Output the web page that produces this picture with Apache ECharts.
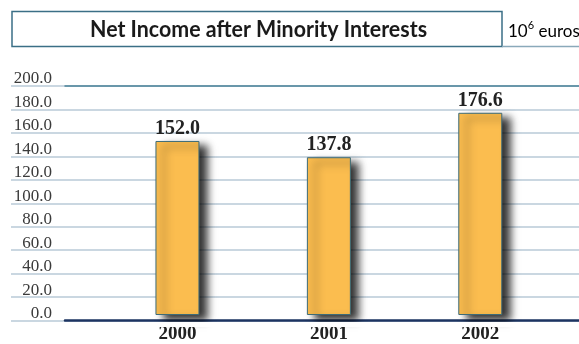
<!DOCTYPE html>
<html>
<head>
<meta charset="utf-8">
<script src="https://cdn.jsdelivr.net/npm/echarts@6/dist/echarts.min.js"></script>
<style>html,body{margin:0;padding:0;background:#fff;}#c{width:579px;height:344px;}</style>
</head>
<body>
<div id="c"></div>
<script>
var categories = ['2000', '2001', '2002'];
var netIncome = [152.0, 137.8, 176.6];
var yTicks = [0, 20, 40, 60, 80, 100, 120, 140, 160, 180, 200];
var titleText = 'Net Income after Minority Interests';
var unitText = ['10', '6', ' euros'];

var chart = echarts.init(document.getElementById('c'), null, {renderer: 'canvas'});
var TOP = 86, BOTTOM = 23.5;
var serif = '"Liberation Serif", "DejaVu Serif", serif';
var option = {
  animation: false,
  grid: [
    {left: 11, right: 0, top: TOP, bottom: BOTTOM},
    {left: 101.75, right: 23, top: TOP, bottom: BOTTOM},
    {left: 65, right: 0, top: TOP, bottom: BOTTOM}
  ],
  xAxis: [
    {gridIndex: 0, type: 'value', show: false},
    {gridIndex: 1, type: 'category', data: categories,
      axisLine: {show: false}, axisTick: {show: false},
      axisLabel: {margin: 10, fontFamily: serif, fontWeight: 'bold', fontSize: 19, color: '#222'}},
    {gridIndex: 2, type: 'value', position: 'bottom', axisLabel: {show: false}, axisTick: {show: false}, splitLine: {show: false},
      axisLine: {show: true, onZero: false, lineStyle: {color: '#1d3461', width: 2.5}}},
    {gridIndex: 2, type: 'value', position: 'top', axisLabel: {show: false}, axisTick: {show: false}, splitLine: {show: false},
      axisLine: {show: true, onZero: false, lineStyle: {color: '#4a8298', width: 1.5}}}
  ],
  yAxis: [
    {gridIndex: 0, type: 'value', min: yTicks[0], max: yTicks[yTicks.length - 1], interval: yTicks[1] - yTicks[0],
      axisLine: {show: false}, axisTick: {show: false},
      splitLine: {show: true, lineStyle: {color: '#b9cad7', width: 1.5}},
      axisLabel: {inside: true, align: 'right', margin: 41, verticalAlign: 'bottom', lineHeight: 14,
        fontFamily: serif, fontSize: 17, color: '#3a3a3a',
        formatter: function (v) { return v.toFixed(1); }}},
    {gridIndex: 1, type: 'value', min: yTicks[0], max: yTicks[yTicks.length - 1], show: false},
    {gridIndex: 2, type: 'value', min: yTicks[0], max: yTicks[yTicks.length - 1], show: false}
  ],
  series: [{
    type: 'bar', xAxisIndex: 1, yAxisIndex: 1, data: netIncome, barWidth: 44,
    itemStyle: {color: '#fbbd4f', borderColor: '#3d6b78', borderWidth: 1,
      shadowColor: 'rgba(0,0,0,0.8)', shadowBlur: 8, shadowOffsetX: 8, shadowOffsetY: 5},
    label: {show: true, position: 'top', distance: 2, fontFamily: serif, fontWeight: 'bold', fontSize: 20, color: '#222',
      formatter: function (p) { return p.value.toFixed(1); }}
  }],
  graphic: [
    {type: 'rect', z: 10, shape: {x: 0, y: 322, width: 579, height: 5}, style: {fill: '#fff'}},
    {type: 'rect', z: 10, shape: {x: 12, y: 11.5, width: 490, height: 35}, style: {fill: '#fff', stroke: '#3b6f86', lineWidth: 1.5}},
    {type: 'line', z: 10, shape: {x1: 502, y1: 46.5, x2: 579, y2: 46.5}, style: {stroke: '#8aa9ba', lineWidth: 1.5}},
    {type: 'text', z: 11, x: 90, y: 29.5, scaleX: 0.93, style: {text: titleText, align: 'left', verticalAlign: 'middle',
      font: 'bold 23px Lato, "Open Sans", sans-serif', fill: '#1a1a1a'}},
    {type: 'text', z: 11, x: 508, y: 30, style: {
      text: '{a|' + unitText[0] + '}{s|' + unitText[1] + '}{a|' + unitText[2] + '}', verticalAlign: 'middle',
      rich: {a: {fontFamily: 'Lato, sans-serif', fontSize: 17, color: '#333', lineHeight: 20, verticalAlign: 'bottom'},
             s: {fontFamily: 'Lato, sans-serif', fontSize: 11, color: '#333', lineHeight: 20, verticalAlign: 'top', padding: [0, 0, 8, 0]}}}}
  ]
};
chart.setOption(option);
</script>
</body>
</html>
